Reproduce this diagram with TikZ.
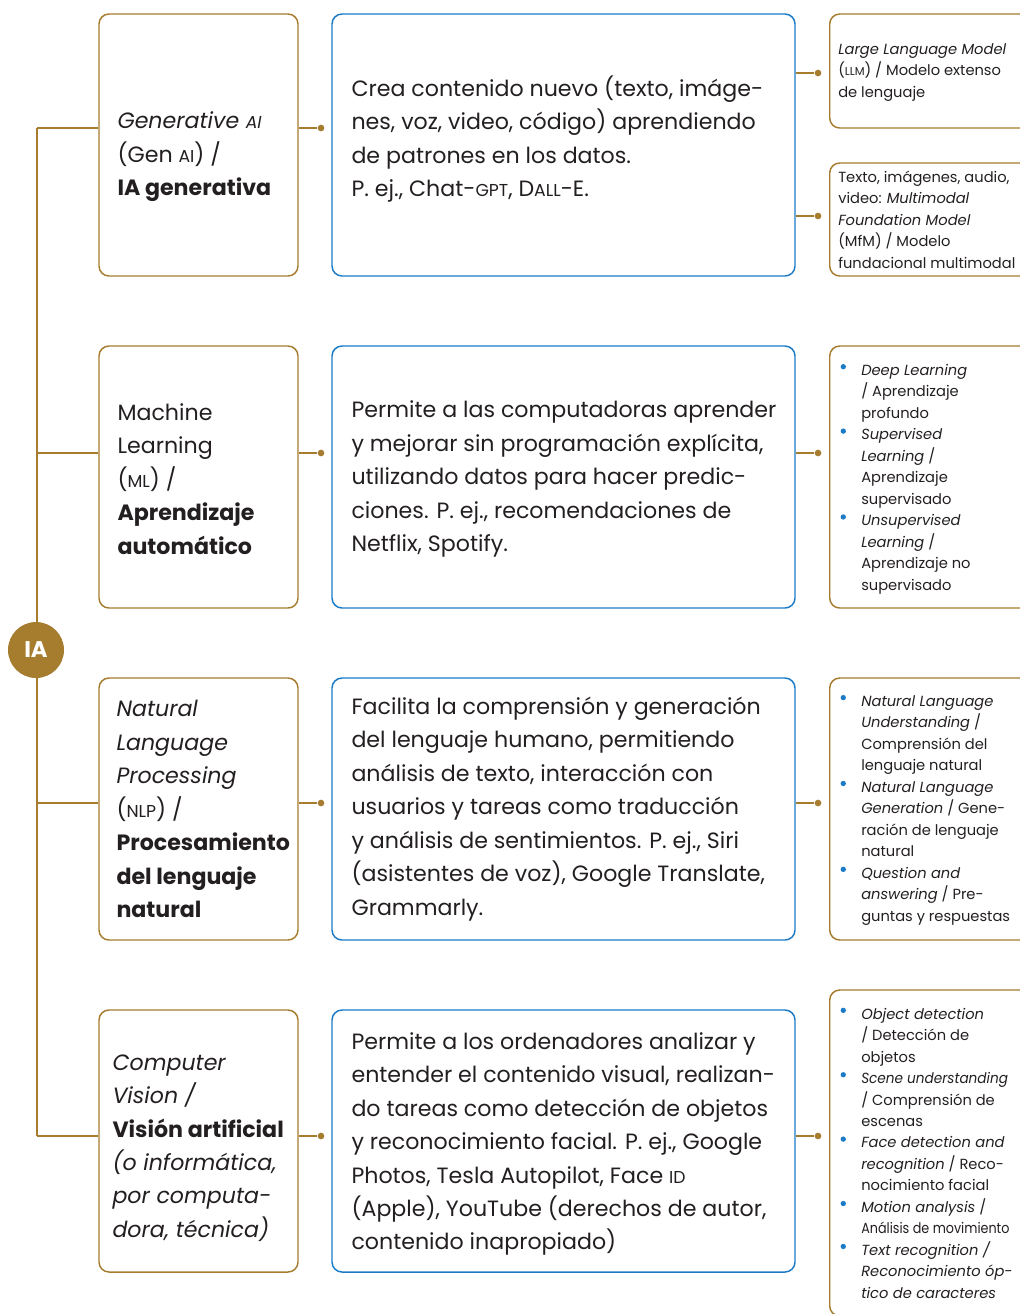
\documentclass[tikz,border=0pt]{standalone}
\usepackage{fontspec}
\setmainfont{Poppins}
\usetikzlibrary{calc}
\definecolor{iagold}{HTML}{A67C2E}
\definecolor{iablue}{HTML}{1B7BC6}
\definecolor{iatext}{HTML}{231F20}
\newcommand{\abbr}[1]{\scalebox{0.78}{#1}}
\newcommand{\itm}{\llap{\raisebox{4.6pt}{\tikz\fill[iablue] (0,0) circle (2pt);}\hspace{11.5pt}}}
\newcommand{\narrow}[2]{\scalebox{#1}[1]{#2}}

\begin{document}
\begin{tikzpicture}[x=0.75pt,y=-0.75pt,
	termbox/.style={draw=iagold, line width=1.1pt, rounded corners=7.5pt, minimum width=149.25pt, minimum height=196.5pt, inner sep=0pt},
	descbox/.style={draw=iablue, line width=1.1pt, rounded corners=7.5pt, minimum width=347.25pt, minimum height=196.5pt, inner sep=0pt},
	subbox/.style={draw=iagold, line width=1.1pt, rounded corners=7.5pt, minimum width=180pt, inner sep=0pt, anchor=west},
	bigtext/.style={anchor=west, align=left, inner sep=0pt, text=iatext, font=\fontsize{16.6pt}{25.1pt}\selectfont},
	smalltext/.style={anchor=west, align=left, inner sep=0pt, text=iatext, font=\fontsize{11pt}{16.1pt}\selectfont},
	link/.style={draw=iagold, line width=1.1pt},
	linkdot/.style={circle, fill=iagold, inner sep=0pt, minimum size=5pt}
	]
	\useasboundingbox (0,0) rectangle (1020,1314);
	
	%%%%% BOXES %%%%%
	
	\node[termbox] (lb1) at (198.5,145) {};
	\node[termbox] (lb2) at (198.5,477) {};
	\node[termbox] (lb3) at (198.5,809) {};
	\node[termbox] (lb4) at (198.5,1141) {};
	
	\node[descbox] (mb1) at (563.5,145) {};
	\node[descbox] (mb2) at (563.5,477) {};
	\node[descbox] (mb3) at (563.5,809) {};
	\node[descbox] (mb4) at (563.5,1141) {};
	
	\node[subbox, minimum height=85.5pt] (rb1a) at (829,71) {};
	\node[subbox, minimum height=84.75pt] (rb1b) at (829,219.5) {};
	\node[subbox, minimum height=196.5pt] (rb2) at (829,477) {};
	\node[subbox, minimum height=196.5pt] (rb3) at (829,809) {};
	\node[subbox, minimum height=244.5pt] (rb4) at (829,1153) {};
	
	%%%%% TEXTS %%%%%
	
	\node[bigtext] (lt1) at ([xshift=14.25pt,yshift=-9pt]lb1.west) {\textit{Generative \abbr{AI}}\\(Gen \abbr{AI}) /\\\textbf{IA generativa}};
	\node[bigtext] (lt2) at ([xshift=14.25pt,yshift=-1.5pt]lb2.west) {Machine\\Learning\\(\abbr{ML}) /\\\textbf{Aprendizaje}\\\textbf{automático}};
	\node[bigtext] (lt3) at ([xshift=13.5pt]lb3.west) {\textit{Natural}\\\textit{Language}\\\textit{Processing}\\(\abbr{NLP}) /\\\textbf{Procesamiento}\\\textbf{del lenguaje}\\\textbf{natural}};
	\node[bigtext] (lt4) at ([xshift=10.5pt,yshift=-5.25pt]lb4.west) {\textit{Computer}\\\textit{Vision /}\\\textbf{Visión artificial}\\\textit{(o informática,}\\\textit{por computa-}\\\textit{dora, técnica)}};
	
	\node[bigtext] (mt1) at ([xshift=15pt,yshift=4.5pt]mb1.west) {Crea contenido nuevo (texto, imáge-\\nes, voz, video, código) aprendiendo\\de patrones en los datos.\\P. ej., Chat-\abbr{GPT}, D\abbr{ALL}-E.};
	\node[bigtext] (mt2) at ([xshift=15pt,yshift=-1.5pt]mb2.west) {Permite a las computadoras aprender\\y mejorar sin programación explícita,\\utilizando datos para hacer predic-\\ciones. P. ej., recomendaciones de\\Netflix, Spotify.};
	\node[bigtext] (mt3) at ([xshift=15pt]mb3.west) {Facilita la comprensión y generación\\del lenguaje humano, permitiendo\\análisis de texto, interacción con\\usuarios y tareas como traducción\\y análisis de sentimientos. P. ej., Siri\\(asistentes de voz), Google Translate,\\Grammarly.};
	\node[bigtext] (mt4) at ([xshift=15pt,yshift=-2.25pt]mb4.west) {Permite a los ordenadores analizar y\\entender el contenido visual, realizan-\\do tareas como detección de objetos\\y reconocimiento facial. P. ej., Google\\Photos, Tesla Autopilot, Face \abbr{ID}\\(Apple), YouTube (derechos de autor,\\contenido inapropiado)};
	
	\node[smalltext] (rt1a) at ([xshift=6.75pt,yshift=-1pt]rb1a.west) {\textit{Large Language Model}\\(\abbr{LLM}) / Modelo extenso\\de lenguaje};
	\node[smalltext] (rt1b) at ([xshift=6.75pt]rb1b.west) {Texto, imágenes, audio,\\video: \textit{Multimodal}\\\textit{Foundation Model}\\(MfM) / Modelo\\fundacional multimodal};
	\node[smalltext] (rt2) at ([xshift=24pt,yshift=-1.5pt]rb2.west) {\itm\textit{Deep Learning}\\/ Aprendizaje\\profundo\\\itm\textit{Supervised}\\\textit{Learning} /\\Aprendizaje\\supervisado\\\itm\textit{Unsupervised}\\\textit{Learning} /\\Aprendizaje no\\supervisado};
	\node[smalltext] (rt3) at ([xshift=24pt,yshift=-0.75pt]rb3.west) {\itm\textit{Natural Language}\\\textit{Understanding} /\\Comprensión del\\lenguaje natural\\\itm\textit{Natural Language}\\\textit{Generation} / Gene-\\ración de lenguaje\\natural\\\itm\textit{Question and}\\\textit{answering} / Pre-\\guntas y respuestas};
	\node[smalltext] (rt4) at ([xshift=24pt]rb4.west) {\itm\textit{Object detection}\\/ Detección de\\objetos\\\itm\narrow{0.93}{\textit{Scene understanding}}\\/ Comprensión de\\escenas\\\itm\textit{Face detection and}\\\textit{recognition} / Reco-\\nocimiento facial\\\itm\textit{Motion analysis} /\\\narrow{0.87}{Análisis de movimiento}\\\itm\textit{Text recognition /}\\\textit{Reconocimiento óp-}\\\textit{tico de caracteres}};
	
	%%%%% CONNECTORS %%%%%
	
	\coordinate (j1) at (37,128);
	\coordinate (j2) at (37,453);
	\coordinate (j3) at (37,803);
	\coordinate (j4) at (37,1136);
	
	\node[linkdot] (d1) at (321,128) {};
	\node[linkdot] (d2) at (321,453) {};
	\node[linkdot] (d3) at (321,803) {};
	\node[linkdot] (d4) at (321,1136) {};
	
	\node[linkdot] (e1a) at (818,73) {};
	\node[linkdot] (e1b) at (818,216) {};
	\node[linkdot] (e2) at (818,453) {};
	\node[linkdot] (e3) at (818,803) {};
	\node[linkdot] (e4) at (818,1136) {};
	
	\draw[link] (j1) -- (j4);
	\draw[link] (j1) -- (j1 -| lb1.west);
	\draw[link] (j2) -- (j2 -| lb2.west);
	\draw[link] (j3) -- (j3 -| lb3.west);
	\draw[link] (j4) -- (j4 -| lb4.west);
	
	\draw[link] (lb1.east |- d1) -- (d1);
	\draw[link] (lb2.east |- d2) -- (d2);
	\draw[link] (lb3.east |- d3) -- (d3);
	\draw[link] (lb4.east |- d4) -- (d4);
	
	\draw[link] (mb1.east |- e1a) -- (e1a);
	\draw[link] (mb1.east |- e1b) -- (e1b);
	\draw[link] (mb2.east |- e2) -- (e2);
	\draw[link] (mb3.east |- e3) -- (e3);
	\draw[link] (mb4.east |- e4) -- (e4);
	
	\node[circle, fill=iagold, minimum size=42pt, inner sep=0pt, text=white, font=\fontsize{17pt}{20pt}\selectfont\bfseries] (ia) at (36,650) {IA};
	
\end{tikzpicture}
\end{document}
